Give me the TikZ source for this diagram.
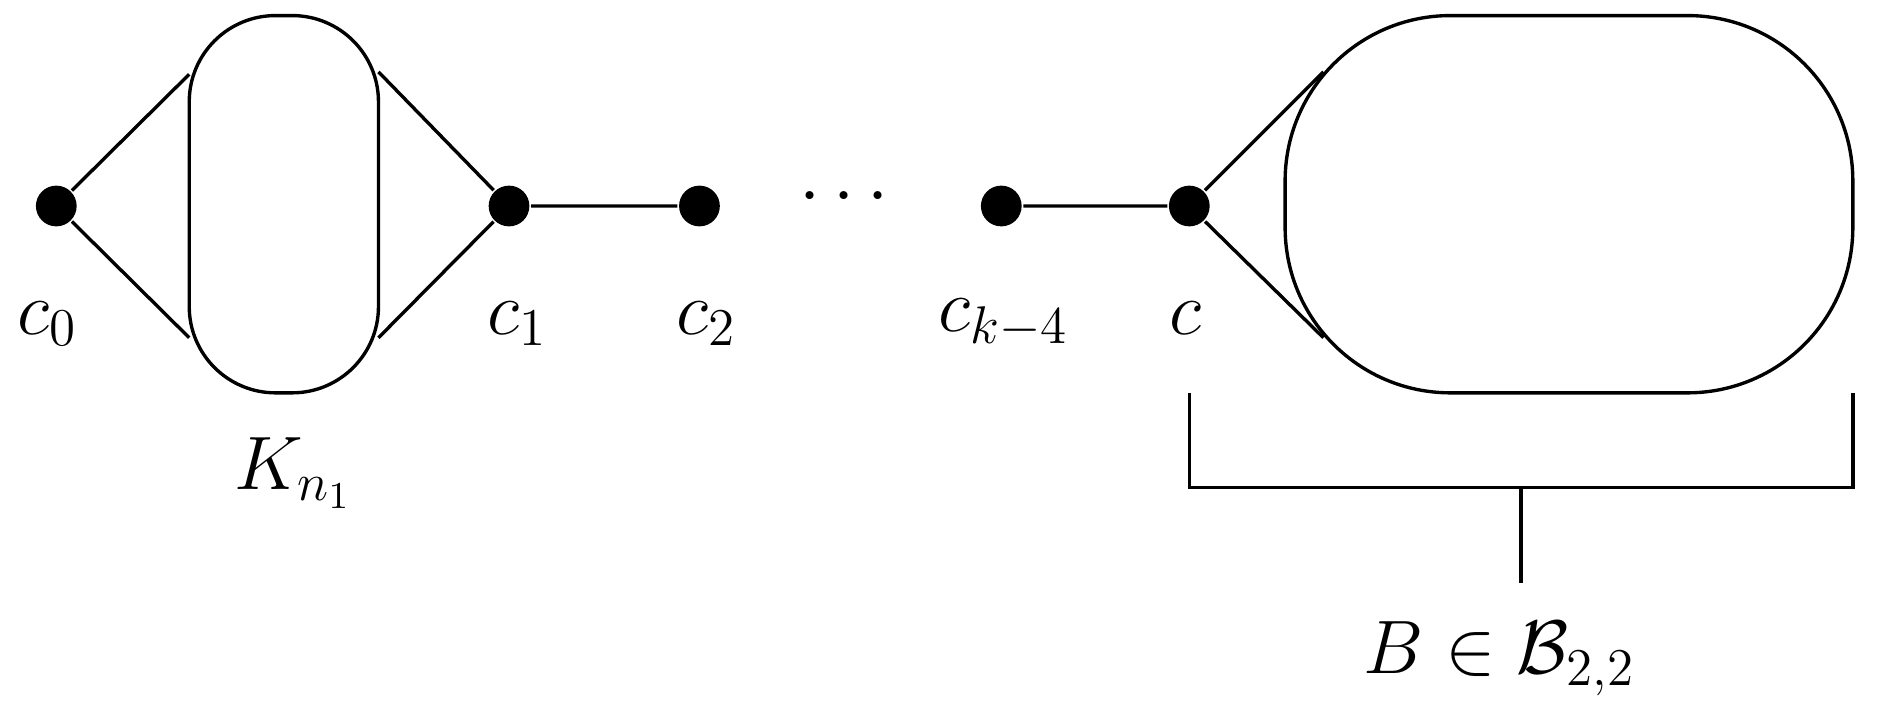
\documentclass[tikz,border=0pt]{standalone}
\usepackage{fix-cm}
\usepackage{amsmath,amssymb}
\begin{document}
\begin{tikzpicture}[x=0.01cm,y=-0.01cm,line width=0.8pt,
  vtx/.style={circle,fill=black,inner sep=0pt,minimum size=0.34cm},
  lbl/.style={inner sep=0pt,font=\fontsize{18}{22}\selectfont}]
\useasboundingbox (0,0) rectangle (1568,594);
\node[vtx] (c0) at (47,172) {};
\node[vtx] (c1) at (425,172) {};
\node[vtx] (c2) at (584,172) {};
\node[vtx] (ck) at (836,172) {};
\node[vtx] (c) at (993,172) {};
\draw[rounded corners=0.72cm] (158,13) rectangle (316,328);
\draw[rounded corners=1.38cm] (1073,13) rectangle (1547,328);
\coordinate (a1) at (158,62); \coordinate (a2) at (158,282);
\coordinate (b1) at (316,60); \coordinate (b2) at (316,282);
\coordinate (d1) at (1105,60); \coordinate (d2) at (1105,282);
\draw (c0) -- (a1) (c0) -- (a2) (c1) -- (b1) (c1) -- (b2);
\draw (c1) -- (c2) (ck) -- (c) (c) -- (d1) (c) -- (d2);
\node[lbl] (dots) at (710,165) {$\cdots$};
\coordinate (p1) at (993,328); \coordinate (p2) at (993,407);
\coordinate (p3) at (1547,328); \coordinate (p4) at (1547,407);
\coordinate (m1) at (1270,407); \coordinate (m2) at (1270,487);
\draw (p1) -- (p2) -- (p4) -- (p3) (m1) -- (m2);
\node[lbl] (l0) at (40,270) {$c_0$};
\node[lbl] (l1) at (432,270) {$c_1$};
\node[lbl] (l2) at (590,270) {$c_2$};
\node[lbl] (lk) at (838,270) {$c_{k-4}$};
\node[lbl] (lc) at (990,266) {$c$};
\node[lbl] (lK) at (245,395) {$K_{n_1}$};
\node[lbl] (lB) at (1252,550) {$B \in \mathcal{B}_{2,2}$};
\end{tikzpicture}
\end{document}
